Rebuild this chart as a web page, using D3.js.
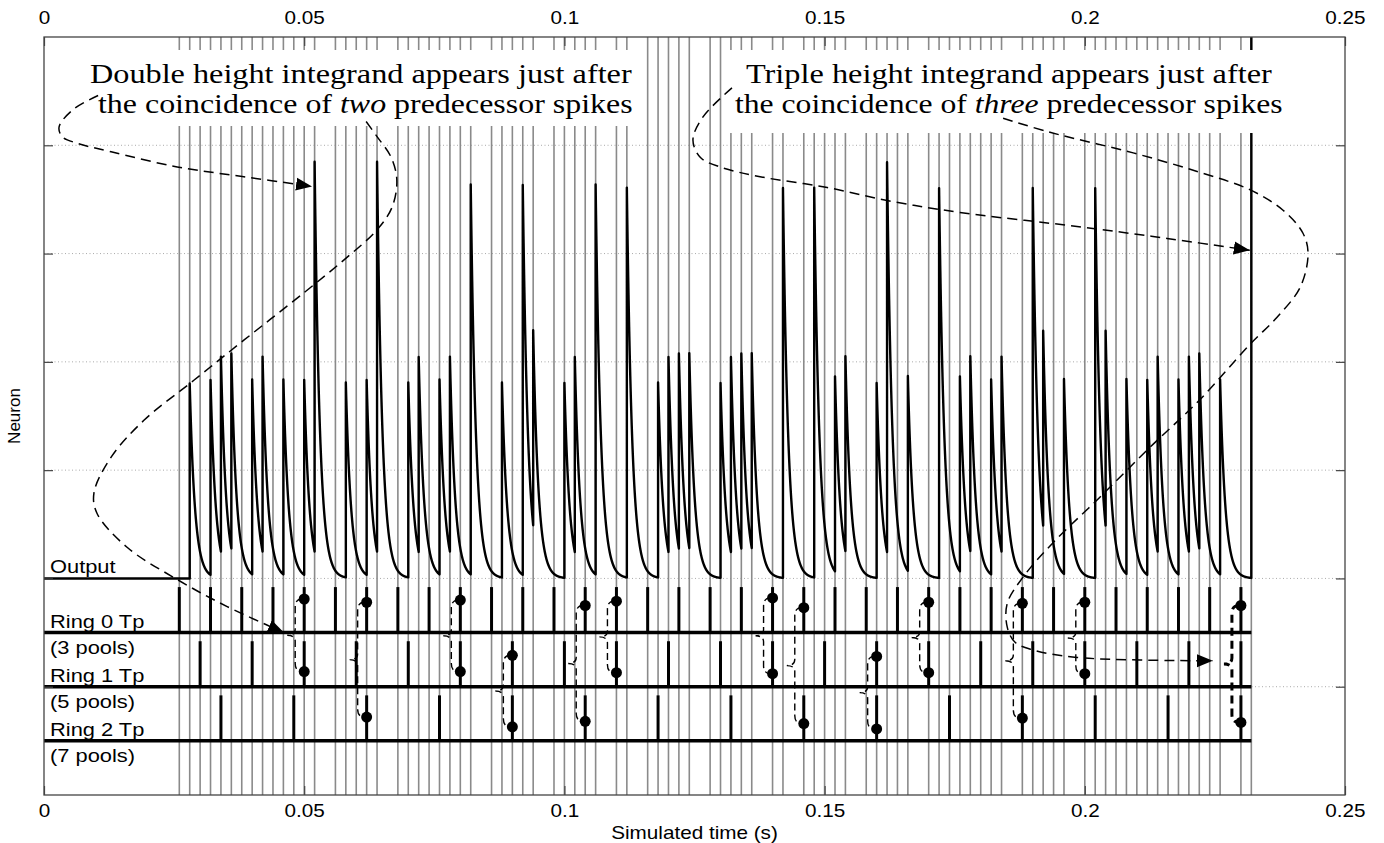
<!DOCTYPE html>
<html>
<head>
<meta charset="utf-8">
<title>Ring pools and output integrand</title>
<script src="https://cdn.jsdelivr.net/npm/d3@7"></script>
<style>
  body { margin: 0; background: #fff; }
</style>
</head>
<body>
<div id="chart"></div>

<script type="text/javascript">
	var width = 1384, height = 843;

	// spike times (s)
	var ring0Spikes = [0.026, 0.032, 0.038, 0.044, 0.050, 0.056, 0.062, 0.068, 0.074, 0.080, 0.086, 0.092,
		0.098, 0.104, 0.110, 0.116, 0.122, 0.128, 0.134, 0.140, 0.146, 0.152, 0.158, 0.164, 0.170, 0.176,
		0.182, 0.188, 0.194, 0.200, 0.206, 0.212, 0.218, 0.224, 0.230];
	var ring1Spikes = [0.030, 0.040, 0.050, 0.060, 0.070, 0.080, 0.090, 0.100, 0.110, 0.120, 0.130, 0.140,
		0.150, 0.160, 0.170, 0.180, 0.190, 0.200, 0.210, 0.220, 0.230];
	var ring2Spikes = [0.034, 0.048, 0.062, 0.076, 0.090, 0.104, 0.118, 0.132, 0.146, 0.160, 0.174, 0.188,
		0.202, 0.216, 0.230];

	// output jumps (s) and how many predecessor spikes arrive together
	var outputTimes = [0.028, 0.032, 0.034, 0.036, 0.040, 0.042, 0.046, 0.050, 0.052, 0.058, 0.062, 0.064,
		0.070, 0.072, 0.076, 0.078, 0.082, 0.088, 0.092, 0.094, 0.100, 0.102, 0.106, 0.112, 0.118, 0.120,
		0.122, 0.124, 0.130, 0.132, 0.134, 0.136, 0.142, 0.148, 0.152, 0.154, 0.160, 0.162, 0.166, 0.172,
		0.176, 0.178, 0.182, 0.184, 0.190, 0.192, 0.196, 0.202, 0.204, 0.208, 0.212, 0.214, 0.218, 0.220,
		0.222, 0.226, 0.232];
	var outputCounts = [1, 1, 1, 1, 1, 1, 1, 1, 2, 1, 1, 2,
		1, 1, 1, 1, 2, 1, 2, 1, 1, 1, 2, 2, 1, 1,
		1, 1, 1, 1, 1, 1, 2, 2, 1, 1, 1, 2, 1, 2,
		1, 1, 1, 1, 2, 1, 1, 2, 1, 1, 1, 1, 1, 1,
		1, 1, 3];

	// coincidences: time, dot on upper ring, dot on lower ring (neuron units)
	var coincTimes = [0.050, 0.062, 0.080, 0.090, 0.104, 0.110, 0.140, 0.146, 0.160, 0.170, 0.188, 0.200, 0.230];
	var coincTopY  = [1.81, 1.78, 1.80, 1.29, 1.75, 1.79, 1.82, 1.73, 1.28, 1.78, 1.77, 1.78, 1.75];
	var coincBotY  = [1.14, 0.72, 1.14, 0.63, 0.68, 1.13, 1.12, 0.66, 0.61, 1.13, 0.71, 1.12, 0.67];

	var rowNames  = ["Ring 0 Tp", "Ring 1 Tp", "Ring 2 Tp"];
	var rowPools  = ["(3 pools)", "(5 pools)", "(7 pools)"];
	var rowLevels = [1.5, 1.0, 0.5];
	var outputLevel = 2;
	var simEnd = 0.232;

	var xTicks = [0, 0.05, 0.1, 0.15, 0.2, 0.25];
	var xTickLabels = ["0", "0.05", "0.1", "0.15", "0.2", "0.25"];
	var yTicks = [1, 2, 3, 4, 5, 6];

	// annotation arrows, in (time, neuron) units
	var arrowTwoPeak = [[0.0104, 6.46], [0.0056, 6.33], [0.0029, 6.17], [0.0035, 6.08], [0.0063, 6.02],
		[0.0129, 5.94], [0.0256, 5.80], [0.0384, 5.71], [0.0515, 5.62]];
	var arrowTwoRings = [[0.0619, 6.22], [0.0640, 6.08], [0.0667, 5.89], [0.0678, 5.68], [0.0669, 5.43],
		[0.0640, 5.22], [0.0576, 4.94], [0.0500, 4.64], [0.0384, 4.20], [0.0288, 3.83], [0.0192, 3.46],
		[0.0129, 3.12], [0.0096, 2.79], [0.0102, 2.60], [0.0159, 2.29], [0.0256, 1.99], [0.0352, 1.74],
		[0.0461, 1.50]];
	var arrowThreePeak = [[0.1322, 6.53], [0.1266, 6.26], [0.1247, 6.05], [0.1261, 5.89], [0.1299, 5.80],
		[0.1376, 5.71], [0.1505, 5.61], [0.1631, 5.48], [0.1760, 5.38], [0.1985, 5.25], [0.2158, 5.14],
		[0.2317, 5.03]];
	var arrowThreeRings = [[0.1843, 6.25], [0.1933, 6.12], [0.2093, 5.93], [0.2221, 5.75], [0.2317, 5.59],
		[0.2381, 5.40], [0.2419, 5.19], [0.2429, 5.00], [0.2414, 4.69], [0.2369, 4.41], [0.2317, 4.16],
		[0.2221, 3.65], [0.2125, 3.21], [0.2029, 2.75], [0.1939, 2.33], [0.1881, 2.01], [0.1851, 1.77],
		[0.1851, 1.55], [0.1866, 1.41], [0.1900, 1.34], [0.1985, 1.27], [0.2246, 1.24]];

	var spikeHeight = 0.42;   // raster tick height, neuron units
	var amp = 1.80, tau = 0.001, dt = 0.00002;

	var sans = "'Liberation Sans', Arial, Helvetica, sans-serif";
	var serif = "'Liberation Serif', 'Times New Roman', serif";
	var stretch = 1.15;

	var x = d3.scaleLinear().domain([0, 0.25]).range([44, 1345]);
	var y = d3.scaleLinear().domain([0, 7]).range([795, 37]);

	var svg = d3.select("#chart").append("svg")
		.attr("width", width)
		.attr("height", height)
		.style("background", "#fff");

	var defs = svg.append("defs");
	defs.append("clipPath").attr("id", "plot").append("rect")
		.attr("x", x(0)).attr("y", y(7))
		.attr("width", x(0.25) - x(0)).attr("height", y(0) - y(7));
	defs.append("marker")
		.attr("id", "head")
		.attr("viewBox", "0 -7 16 14")
		.attr("refX", 16).attr("refY", 0)
		.attr("markerWidth", 16).attr("markerHeight", 14)
		.attr("markerUnits", "userSpaceOnUse")
		.attr("orient", "auto")
		.append("path").attr("d", "M0,-6.5L16,0L0,6.5Z").attr("fill", "#000");

	// dotted grid
	svg.append("g").selectAll("line").data(yTicks).enter().append("line")
		.attr("x1", x(0)).attr("x2", x(0.25))
		.attr("y1", function(d) { return y(d); })
		.attr("y2", function(d) { return y(d); })
		.attr("stroke", "#aaa").attr("stroke-width", 1)
		.attr("stroke-dasharray", "1,2.5");

	// grey event lines: every input spike and every output jump
	var events = [];
	ring0Spikes.concat(ring1Spikes, ring2Spikes, outputTimes).forEach(function(t) {
		var k = Math.round(t * 1e6);
		if (events.indexOf(k) < 0) events.push(k);
	});
	svg.append("g").selectAll("line").data(events).enter().append("line")
		.attr("x1", function(d) { return x(d / 1e6); })
		.attr("x2", function(d) { return x(d / 1e6); })
		.attr("y1", y(7)).attr("y2", y(0))
		.attr("stroke", "#8a8a8a").attr("stroke-width", 1.6);

	// ring rasters
	var ringSpikes = [ring0Spikes, ring1Spikes, ring2Spikes];
	ringSpikes.forEach(function(spikes, r) {
		var g = svg.append("g");
		g.append("line")
			.attr("x1", x(0)).attr("x2", x(simEnd))
			.attr("y1", y(rowLevels[r])).attr("y2", y(rowLevels[r]))
			.attr("stroke", "#000").attr("stroke-width", 3.5);
		g.selectAll("line.spike").data(spikes).enter().append("line")
			.attr("class", "spike")
			.attr("x1", function(d) { return x(d); })
			.attr("x2", function(d) { return x(d); })
			.attr("y1", y(rowLevels[r]))
			.attr("y2", y(rowLevels[r] + spikeHeight))
			.attr("stroke", "#000").attr("stroke-width", 3);
	});

	// output integrand: each jump decays exponentially
	var trace = [[0, outputLevel]];
	var v = 0, tPrev = 0;
	outputTimes.forEach(function(te, i) {
		for (var t = tPrev + dt; t < te - 1e-9; t += dt) {
			trace.push([t, outputLevel + v * Math.exp(-(t - tPrev) / tau)]);
		}
		v = v * Math.exp(-(te - tPrev) / tau);
		trace.push([te, outputLevel + v]);
		v += amp * outputCounts[i];
		trace.push([te, outputLevel + v]);
		tPrev = te;
	});
	svg.append("path")
		.datum(trace)
		.attr("clip-path", "url(#plot)")
		.attr("d", d3.line().x(function(d) { return x(d[0]); }).y(function(d) { return y(d[1]); }))
		.attr("fill", "none").attr("stroke", "#000").attr("stroke-width", 2.4)
		.attr("stroke-linejoin", "round");

	// annotation boxes and text
	function noteLine(g, parts, x0, x1, base) {
		var t = g.append("text")
			.style("font-family", serif).style("font-size", "28px").attr("fill", "#000");
		parts.forEach(function(p) {
			t.append("tspan").text(p[0]).style("font-style", p[1] ? "italic" : "normal");
		});
		var w = t.node().getComputedTextLength();
		t.attr("transform", "translate(" + x0 + "," + base + ") scale(" + ((x1 - x0) / w) + ",1)");
	}
	var notes = svg.append("g");
	notes.append("rect").attr("x", 84).attr("y", 50).attr("width", 556).attr("height", 76).attr("fill", "#fff");
	notes.append("rect").attr("x", 728).attr("y", 50).attr("width", 562).attr("height", 83).attr("fill", "#fff");
	noteLine(notes, [["Double height integrand appears just after", false]], 90, 632, 83);
	noteLine(notes, [["the coincidence of ", false], ["two", true], [" predecessor spikes", false]], 98, 633, 113);
	noteLine(notes, [["Triple height integrand appears just after", false]], 746, 1272, 83);
	noteLine(notes, [["the coincidence of ", false], ["three", true], [" predecessor spikes", false]], 735, 1283, 113);

	// braces linking coincident spikes
	function bracePath(t, top, bot) {
		var x0 = x(t), xb = x0 - 9, xc = xb - 8;
		var y0 = y(top), y1 = y(bot), ym = (y0 + y1) / 2;
		return "M" + (x0 - 2) + "," + y0 +
			"Q" + xb + "," + y0 + " " + xb + "," + (y0 + 8) +
			"L" + xb + "," + (ym - 6) +
			"Q" + xb + "," + ym + " " + xc + "," + ym +
			"Q" + xb + "," + ym + " " + xb + "," + (ym + 6) +
			"L" + xb + "," + (y1 - 8) +
			"Q" + xb + "," + y1 + " " + (x0 - 2) + "," + y1;
	}
	var braces = svg.append("g");
	coincTimes.forEach(function(t, i) {
		var triple = i === coincTimes.length - 1;
		braces.append("path")
			.attr("d", bracePath(t, coincTopY[i], coincBotY[i]))
			.attr("fill", "none").attr("stroke", "#000")
			.attr("stroke-width", triple ? 3 : 1.4)
			.attr("stroke-dasharray", triple ? "8,5" : "7,4");
		braces.append("circle").attr("cx", x(t)).attr("cy", y(coincTopY[i])).attr("r", 5.5).attr("fill", "#000");
		braces.append("circle").attr("cx", x(t)).attr("cy", y(coincBotY[i])).attr("r", 5.5).attr("fill", "#000");
	});

	// dashed arrows
	var curve = d3.line()
		.x(function(d) { return x(d[0]); })
		.y(function(d) { return y(d[1]); })
		.curve(d3.curveCatmullRom.alpha(0.5));
	[arrowTwoPeak, arrowTwoRings, arrowThreePeak, arrowThreeRings].forEach(function(pts) {
		svg.append("path")
			.attr("d", curve(pts))
			.attr("fill", "none").attr("stroke", "#000")
			.attr("stroke-width", 1.5).attr("stroke-dasharray", "10,6")
			.attr("marker-end", "url(#head)");
	});

	// axes, ticks pointing inward
	function styleAxis(g) {
		g.select(".domain").remove();
		g.selectAll("line").attr("stroke", "#444").attr("stroke-width", 1.2);
		g.selectAll("text")
			.attr("fill", "#000")
			.style("font-family", sans).style("font-size", "18px")
			.attr("transform", "scale(" + stretch + ",1)");
	}
	svg.append("g").attr("transform", "translate(0," + y(0) + ")")
		.call(d3.axisBottom(x).tickValues(xTicks)
			.tickFormat(function(d, i) { return xTickLabels[i]; })
			.tickSize(-9).tickPadding(9))
		.call(styleAxis);
	svg.append("g").attr("transform", "translate(0," + y(7) + ")")
		.call(d3.axisTop(x).tickValues(xTicks)
			.tickFormat(function(d, i) { return xTickLabels[i]; })
			.tickSize(-9).tickPadding(13))
		.call(styleAxis);
	svg.append("g").attr("transform", "translate(" + x(0) + ",0)")
		.call(d3.axisLeft(y).tickValues(yTicks).tickFormat("").tickSize(-9))
		.call(styleAxis);
	svg.append("g").attr("transform", "translate(" + x(0.25) + ",0)")
		.call(d3.axisRight(y).tickValues(yTicks).tickFormat("").tickSize(-9))
		.call(styleAxis);
	svg.append("rect")
		.attr("x", x(0)).attr("y", y(7))
		.attr("width", x(0.25) - x(0)).attr("height", y(0) - y(7))
		.attr("fill", "none").attr("stroke", "#444").attr("stroke-width", 1.3);

	// row labels
	function sansLabel(str, px, py, size, anchor) {
		return svg.append("text")
			.attr("transform", "translate(" + px + "," + py + ") scale(" + stretch + ",1)")
			.attr("text-anchor", anchor || "start")
			.style("font-family", sans).style("font-size", size + "px")
			.attr("fill", "#000")
			.text(str);
	}
	sansLabel("Output", x(0) + 6, y(outputLevel) - 5, 19);
	rowNames.forEach(function(name, r) {
		sansLabel(name, x(0) + 6, y(rowLevels[r]) - 5, 19);
		sansLabel(rowPools[r], x(0) + 6, y(rowLevels[r]) + 21, 19);
	});

	sansLabel("Simulated time (s)", (x(0) + x(0.25)) / 2, 839, 18, "middle");
	svg.append("text")
		.attr("transform", "translate(20," + y(3.5) + ") rotate(-90)")
		.attr("text-anchor", "middle")
		.style("font-family", sans).style("font-size", "17px")
		.attr("fill", "#000")
		.text("Neuron");
</script>
</body>
</html>
